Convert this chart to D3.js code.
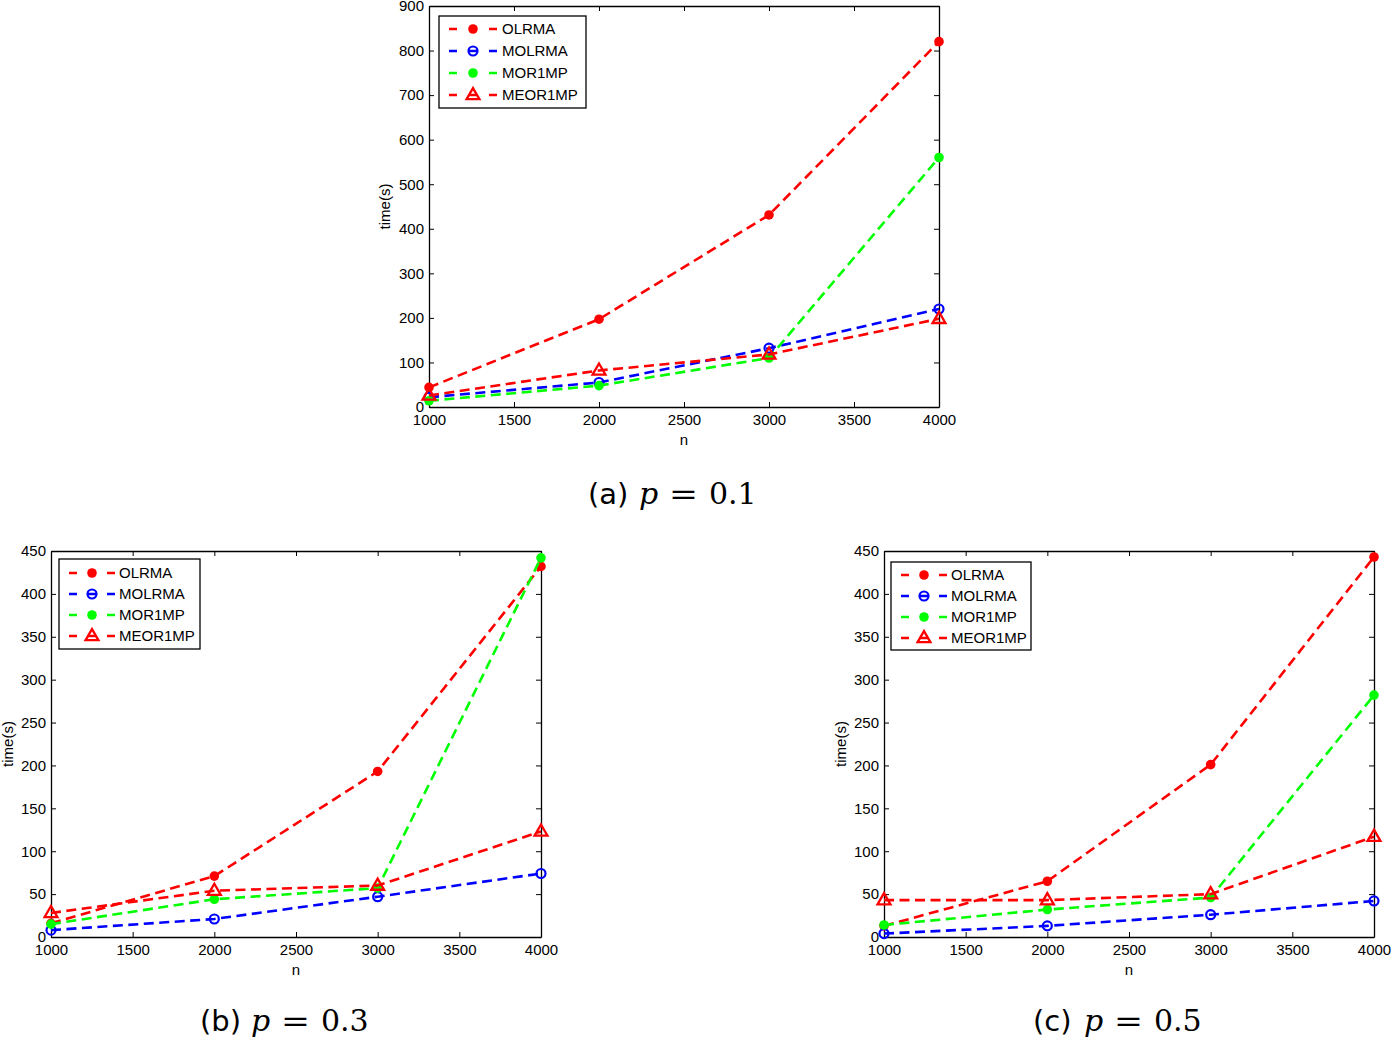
<!DOCTYPE html>
<html>
<head>
<meta charset="utf-8">
<script src="https://cdn.jsdelivr.net/npm/d3@7"></script>
<style>
  html, body { margin: 0; padding: 0; background: #fff; }
  svg { display: block; }
</style>
</head>
<body>
<svg id="chart" width="1391" height="1039"></svg>
<script>
// ---- data ----
const nValues = [1000, 2000, 3000, 4000];
const xTicks = [1000, 1500, 2000, 2500, 3000, 3500, 4000];
const yTicksA = [0, 100, 200, 300, 400, 500, 600, 700, 800, 900];
const yTicksBC = [0, 50, 100, 150, 200, 250, 300, 350, 400, 450];
const seriesNames = ["OLRMA", "MOLRMA", "MOR1MP", "MEOR1MP"];

// (a) p = 0.1
const olrmaP01   = [44, 197, 431, 820];
const molrmaP01  = [22, 55, 132, 220];
const mor1mpP01  = [14, 48, 110, 560];
const meor1mpP01 = [26, 82, 118, 198];
// (b) p = 0.3
const olrmaP03   = [16, 71, 193, 432];
const molrmaP03  = [8, 21, 47, 74];
const mor1mpP03  = [15, 44, 57, 442];
const meor1mpP03 = [28, 54, 60, 123];
// (c) p = 0.5
const olrmaP05   = [13, 65, 201, 443];
const molrmaP05  = [4, 13, 26, 42];
const mor1mpP05  = [14, 32, 46, 282];
const meor1mpP05 = [43, 43, 50, 117];

const captionLetters = ["(a)", "(b)", "(c)"];
const captionP = ["0.1", "0.3", "0.5"];

// ---- styles ----
const seriesStyle = [
  {color: "#ff0000", marker: "dot"},
  {color: "#0000ff", marker: "ring"},
  {color: "#00ff00", marker: "dot"},
  {color: "#ff0000", marker: "tri"}
];

const panels = [
  {series: [olrmaP01, molrmaP01, mor1mpP01, meor1mpP01], yTicks: yTicksA, yMax: 900,
   x0: 429, x1: 939, y0: 6, y1: 407,
   leg: {x: 439, y: 16, w: 147, h: 92, first: 29, step: 22, lineX: 10, markX: 34, textX: 63},
   ylabX: 385, cap: {x: 588, y: 504}},
  {series: [olrmaP03, molrmaP03, mor1mpP03, meor1mpP03], yTicks: yTicksBC, yMax: 450,
   x0: 51, x1: 541, y0: 551, y1: 937,
   leg: {x: 59, y: 559, w: 141, h: 90, first: 573, step: 21, lineX: 10, markX: 33, textX: 60},
   ylabX: 8, cap: {x: 200, y: 1031}},
  {series: [olrmaP05, molrmaP05, mor1mpP05, meor1mpP05], yTicks: yTicksBC, yMax: 450,
   x0: 884, x1: 1374, y0: 551, y1: 937,
   leg: {x: 891, y: 562, w: 140, h: 88, first: 575, step: 21, lineX: 10, markX: 33, textX: 60},
   ylabX: 841, cap: {x: 1033, y: 1031}}
];

const svg = d3.select("#chart");
const FONT = "'Liberation Sans', Arial, Helvetica, sans-serif";
const triPath = d3.symbol(d3.symbolTriangle, 72)();

function drawMarker(g, kind, color, cx, cy) {
  if (kind === "dot") {
    g.append("circle").attr("cx", cx).attr("cy", cy).attr("r", 4.8).attr("fill", color);
  } else if (kind === "ring") {
    g.append("circle").attr("cx", cx).attr("cy", cy).attr("r", 4.5)
      .attr("fill", "none").attr("stroke", color).attr("stroke-width", 2.2);
  } else {
    g.append("path").attr("d", triPath).attr("transform", `translate(${cx},${cy + 0.5})`)
      .attr("fill", "none").attr("stroke", color).attr("stroke-width", 2.3)
      .attr("stroke-linejoin", "miter");
  }
}

panels.forEach((p, pi) => {
  const x = d3.scaleLinear().domain([1000, 4000]).range([p.x0, p.x1]);
  const y = d3.scaleLinear().domain([0, p.yMax]).range([p.y1, p.y0]);
  const g = svg.append("g");

  // axes
  const styleAxis = sel => {
    sel.select(".domain").attr("stroke", "#000").attr("stroke-width", 1.3);
    sel.selectAll(".tick line").attr("stroke", "#000").attr("stroke-width", 1);
    sel.selectAll("text").attr("font-family", FONT).attr("font-size", 15).attr("fill", "#000");
  };
  g.append("g").attr("transform", `translate(0,${p.y1})`)
    .call(d3.axisBottom(x).tickValues(xTicks).tickFormat(d3.format("d")).tickSizeInner(-5).tickSizeOuter(0).tickPadding(7))
    .call(styleAxis);
  g.append("g").attr("transform", `translate(0,${p.y0})`)
    .call(d3.axisTop(x).tickValues(xTicks).tickFormat("").tickSizeInner(-5).tickSizeOuter(0))
    .call(styleAxis);
  g.append("g").attr("transform", `translate(${p.x0},0)`)
    .call(d3.axisLeft(y).tickValues(p.yTicks).tickFormat(d3.format("d")).tickSizeInner(-5).tickSizeOuter(0).tickPadding(5))
    .call(styleAxis);
  g.append("g").attr("transform", `translate(${p.x1},0)`)
    .call(d3.axisRight(y).tickValues(p.yTicks).tickFormat("").tickSizeInner(-5).tickSizeOuter(0))
    .call(styleAxis);

  // axis labels
  g.append("text").attr("x", (p.x0 + p.x1) / 2).attr("y", p.y1 + 38)
    .attr("text-anchor", "middle").attr("font-family", FONT).attr("font-size", 15).text("n");
  g.append("text").attr("transform", `translate(${p.ylabX},${(p.y0 + p.y1) / 2}) rotate(-90)`)
    .attr("dy", "0.35em").attr("text-anchor", "middle").attr("font-family", FONT)
    .attr("font-size", 15).text("time(s)");

  // series
  const line = d3.line().x((d, i) => x(nValues[i])).y(d => y(d));
  p.series.forEach((vals, si) => {
    const st = seriesStyle[si];
    const sg = g.append("g");
    sg.append("path").datum(vals).attr("d", line).attr("fill", "none")
      .attr("stroke", st.color).attr("stroke-width", 2.6).attr("stroke-dasharray", "10,5.5");
    vals.forEach((v, i) => drawMarker(sg, st.marker, st.color, x(nValues[i]), y(v)));
  });

  // legend
  const L = p.leg;
  const lg = g.append("g");
  lg.append("rect").attr("x", L.x).attr("y", L.y).attr("width", L.w).attr("height", L.h)
    .attr("fill", "#fff").attr("stroke", "#000").attr("stroke-width", 1.3);
  seriesNames.forEach((name, si) => {
    const st = seriesStyle[si];
    const cy = L.first + si * L.step;
    const lx0 = L.x + L.lineX, mx = L.x + L.markX, lx1 = mx + (mx - lx0);
    lg.append("line").attr("x1", lx0).attr("x2", lx1).attr("y1", cy).attr("y2", cy)
      .attr("stroke", st.color).attr("stroke-width", 2.6)
      .attr("stroke-dasharray", `8,${mx - lx0 - 12},8,${mx - lx0 - 12},9`);
    drawMarker(lg, st.marker, st.color, mx, cy);
    lg.append("text").attr("x", L.x + L.textX).attr("y", cy).attr("dy", "0.36em")
      .attr("font-family", FONT).attr("font-size", 15).text(name);
  });

  // caption
  const c = p.cap;
  const cg = g.append("g").attr("fill", "#000");
  cg.append("text").attr("x", c.x).attr("y", c.y).attr("font-family", "'DejaVu Sans', sans-serif")
    .attr("font-size", 29).text(captionLetters[pi]);
  cg.append("text").attr("x", c.x + 51).attr("y", c.y).attr("font-family", "'DejaVu Serif', serif")
    .attr("font-style", "italic").attr("font-size", 30).text("p");
  cg.append("text").attr("x", c.x + 81).attr("y", c.y).attr("font-family", "'DejaVu Serif', serif")
    .attr("font-size", 30).attr("textLength", 29).attr("lengthAdjust", "spacingAndGlyphs").text("=");
  cg.append("text").attr("x", c.x + 121).attr("y", c.y).attr("font-family", "'DejaVu Serif', serif")
    .attr("font-size", 30).text(captionP[pi]);
});
</script>
</body>
</html>
